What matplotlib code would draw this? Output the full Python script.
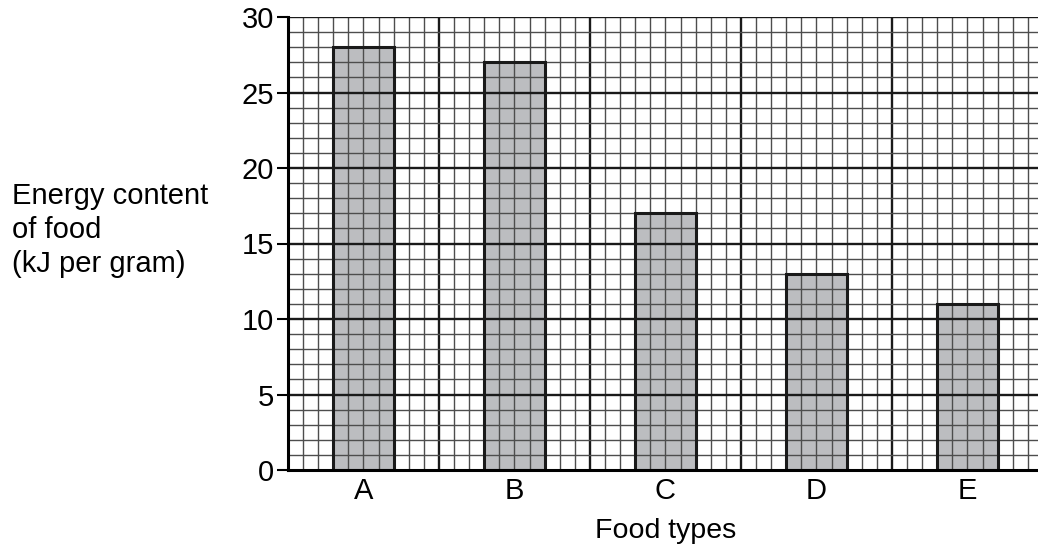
import numpy as np
import matplotlib
matplotlib.use("Agg")
from matplotlib import pyplot as plt
from matplotlib import transforms

## data
foods = ["A", "B", "C", "D", "E"]
energy = [28, 27, 17, 13, 11]          # kJ per gram
yticks = [0, 5, 10, 15, 20, 25, 30]

## layout in grid cells (one cell = one small square)
centres = [5, 15, 25, 35, 45]
bar_w = 4
x_max = 49.67

plt.rcParams['font.family'] = ['Liberation Sans', 'DejaVu Sans']

fig = plt.figure(figsize=(10.38, 5.52), dpi=100)
ax = fig.add_axes([288/1038, (552-470)/552, (1038-288)/1038, 453/552])
ax.set_xlim(0, x_max)
ax.set_ylim(0, 30)

## bar fill under the grid, outline over it
ax.bar(centres, energy, width=bar_w, color='#bcbdc0', zorder=1)

for x in np.arange(1, 50):
    major = (x % 10 == 0)
    ax.axvline(x, color='#1a1a1a' if major else '#4d4d4d',
               lw=1.7 if major else 1.0, zorder=2)
for y in np.arange(1, 31):
    major = (y % 5 == 0)
    ax.axhline(y, color='#1a1a1a' if major else '#4d4d4d',
               lw=1.7 if major else 1.0, zorder=2)

ax.bar(centres, energy, width=bar_w, fill=False, edgecolor='#1a1a1a',
       lw=2.2, zorder=3)

for s in ['top', 'right']:
    ax.spines[s].set_visible(False)
ax.spines['left'].set_linewidth(2.2)
ax.spines['bottom'].set_linewidth(2.2)
ax.spines['left'].set_zorder(4)
ax.spines['bottom'].set_zorder(4)

ax.set_yticks(yticks)
ax.tick_params(axis='y', length=8, width=1.5, pad=2, labelsize=21)
ax.set_xticks(centres)
ax.set_xticklabels(foods)
ax.tick_params(axis='x', length=0, pad=5, labelsize=21)

trans = transforms.blended_transform_factory(ax.transData, fig.transFigure)
ax.text(25, 1 - 538/552, "Food types", transform=trans, ha='center',
        va='baseline', fontsize=20.5)

fig.text(12/1038, 1 - 182/552, "Energy content\nof food\n(kJ per gram)",
         ha='left', va='top', fontsize=21, linespacing=1.28)

fig.savefig("out.png", dpi=100)
